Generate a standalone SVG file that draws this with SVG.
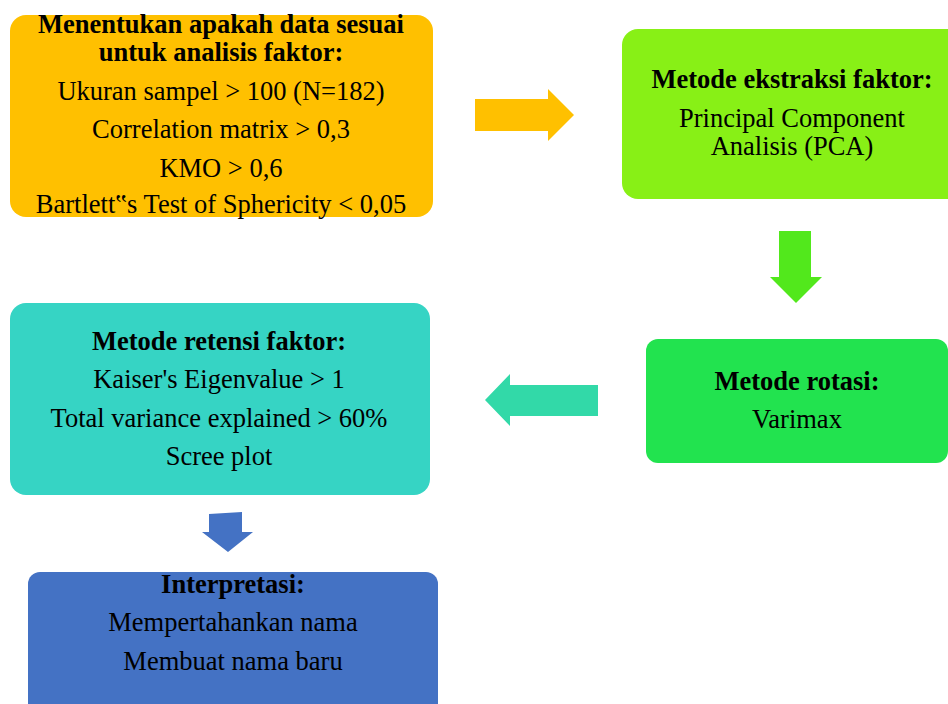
<svg xmlns="http://www.w3.org/2000/svg" width="948" height="704" viewBox="0 0 948 704">
<style>
text{font-family:"Liberation Serif","Times New Roman",serif;font-size:26.5px;fill:#000;text-anchor:middle}
.b{font-weight:bold}
</style>
<rect width="948" height="704" fill="#fff"/>
<g id="connectors">
<polygon points="475,99 548,99 548,89 574,115 548,141 548,131 475,131" fill="#FFC000"/>
<polygon points="779,231 811,231 811,277 822,277 796,303 770,277 779,277" fill="#52E81C"/>
<polygon points="598,385 510,385 510,374 485,400 510,426 510,416 598,416" fill="#32D9A8"/>
<polygon points="209,514 242,512 242,532 253,532 228,552 202,532 209,532" fill="#4472C4"/>
</g>
<g id="node-kelayakan">
<rect x="10" y="15" width="423" height="202" rx="16" fill="#FFC000"/>
<text class="b" x="221" y="33">Menentukan apakah data sesuai</text>
<text class="b" x="221" y="61">untuk analisis faktor:</text>
<text x="221" y="100">Ukuran sampel &gt; 100 (N=182)</text>
<text x="221" y="138">Correlation matrix &gt; 0,3</text>
<text x="221" y="177">KMO &gt; 0,6</text>
<text x="221" y="213">Bartlett‟s Test of Sphericity &lt; 0,05</text>
</g>
<g id="node-ekstraksi">
<rect x="622" y="29" width="346" height="170" rx="16" fill="#88F016"/>
<text class="b" x="792" y="88">Metode ekstraksi faktor:</text>
<text x="792" y="127">Principal Component</text>
<text x="792" y="155">Analisis (PCA)</text>
</g>
<g id="node-rotasi">
<rect x="646" y="339" width="302" height="124" rx="12" fill="#22E34F"/>
<text class="b" x="797" y="390">Metode rotasi:</text>
<text x="797" y="428">Varimax</text>
</g>
<g id="node-retensi">
<rect x="10" y="303" width="420" height="192" rx="16" fill="#36D4C4"/>
<text class="b" x="219" y="350">Metode retensi faktor:</text>
<text x="219" y="388">Kaiser's Eigenvalue &gt; 1</text>
<text x="219" y="427">Total variance explained &gt; 60%</text>
<text x="219" y="465">Scree plot</text>
</g>
<g id="node-interpretasi">
<rect x="28" y="572" width="410" height="160" rx="12" fill="#4472C4"/>
<text class="b" x="233" y="593">Interpretasi:</text>
<text x="233" y="631">Mempertahankan nama</text>
<text x="233" y="670">Membuat nama baru</text>
</g>
</svg>
